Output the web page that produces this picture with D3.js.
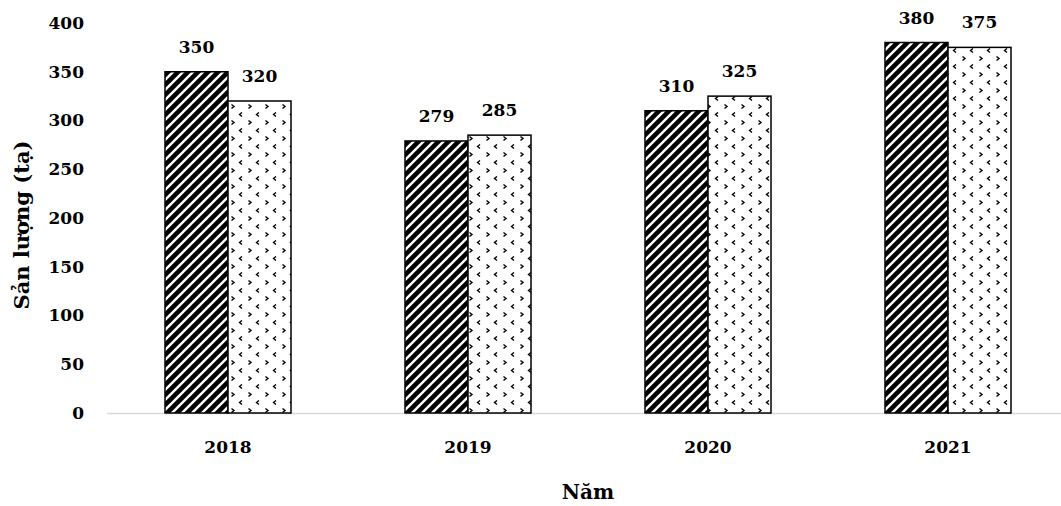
<!DOCTYPE html>
<html>
<head>
<meta charset="utf-8">
<script src="https://cdn.jsdelivr.net/npm/d3@7/dist/d3.min.js"></script>
<style>
  html, body { margin: 0; padding: 0; background: #fff; }
  svg text { font-family: "DejaVu Serif", "Liberation Serif", serif; font-weight: bold; fill: #000; }
</style>
</head>
<body>
<svg id="chart" width="1061" height="506"></svg>
<script>
// Production by year, two series
const years = ["2018", "2019", "2020", "2021"];
const seriesA = [350, 279, 310, 380];
const seriesB = [320, 285, 325, 375];
const yTicks = [0, 50, 100, 150, 200, 250, 300, 350, 400];
const yTitle = "Sản lượng (tạ)";
const xTitle = "Năm";

const svg = d3.select("#chart");
const plotLeft = 108, plotRight = 1068, plotTop = 23, plotBottom = 413;

const x = d3.scaleBand().domain(years).range([plotLeft, plotRight]);
const barW = 63;
const y = d3.scaleLinear().domain([0, 400]).range([plotBottom, plotTop]);

// Fill patterns
const defs = svg.append("defs");
const stripe = defs.append("pattern")
  .attr("id", "stripe").attr("patternUnits", "userSpaceOnUse")
  .attr("width", 10).attr("height", 10);
stripe.append("rect").attr("width", 10).attr("height", 10).attr("fill", "#fff");
stripe.append("path")
  .attr("d", "M-2,12 L12,-2 M-2,2 L2,-2 M8,12 L12,8")
  .attr("stroke", "#000").attr("stroke-width", 4.6);

const dots = defs.append("pattern")
  .attr("id", "dots").attr("patternUnits", "userSpaceOnUse")
  .attr("width", 17).attr("height", 16);
dots.append("rect").attr("width", 17).attr("height", 16).attr("fill", "#fff");
dots.append("path").attr("d", "M4,0.5 L1.5,2.5 L4,4.5").attr("fill", "none")
  .attr("stroke", "#000").attr("stroke-width", 1.4);
dots.append("path").attr("d", "M10.5,8.5 L13,10.5 L10.5,12.5").attr("fill", "none")
  .attr("stroke", "#000").attr("stroke-width", 1.4);

// Baseline
svg.append("line")
  .attr("x1", plotLeft - 1).attr("x2", 1061)
  .attr("y1", plotBottom + 0.5).attr("y2", plotBottom + 0.5)
  .attr("stroke", "#d9d9d9").attr("stroke-width", 1.5);

// Y axis labels
const yAxis = d3.axisLeft(y).tickValues(yTicks).tickSize(0).tickPadding(0);
const gy = svg.append("g").attr("transform", "translate(84,0)").call(yAxis);
gy.select(".domain").remove();
gy.selectAll("text").attr("font-size", 17).attr("font-family", null);

// X axis labels
const xAxis = d3.axisBottom(x).tickSize(0).tickPadding(0);
const gx = svg.append("g").attr("transform", "translate(0,441)").call(xAxis);
gx.select(".domain").remove();
gx.selectAll("text").attr("font-size", 17).attr("font-family", null);

// Bars
const groups = svg.append("g").selectAll("g").data(years).join("g");
const center = d => x(d) + x.bandwidth() / 2;

groups.append("rect")
  .attr("x", d => center(d) - barW)
  .attr("y", (d, i) => y(seriesA[i]))
  .attr("width", barW)
  .attr("height", (d, i) => plotBottom - y(seriesA[i]))
  .attr("fill", "url(#stripe)").attr("stroke", "#000").attr("stroke-width", 1.5);

groups.append("rect")
  .attr("x", d => center(d))
  .attr("y", (d, i) => y(seriesB[i]))
  .attr("width", barW)
  .attr("height", (d, i) => plotBottom - y(seriesB[i]))
  .attr("fill", "url(#dots)").attr("stroke", "#000").attr("stroke-width", 1.5);

// Value labels
groups.append("text")
  .attr("x", d => center(d) - barW / 2)
  .attr("y", (d, i) => y(seriesA[i]) - 19)
  .attr("text-anchor", "middle").attr("font-size", 17)
  .text((d, i) => seriesA[i]);
groups.append("text")
  .attr("x", d => center(d) + barW / 2)
  .attr("y", (d, i) => y(seriesB[i]) - 19)
  .attr("text-anchor", "middle").attr("font-size", 17)
  .text((d, i) => seriesB[i]);

// Axis titles
svg.append("text")
  .attr("transform", "translate(29,225) rotate(-90)")
  .attr("text-anchor", "middle").attr("font-size", 21)
  .text(yTitle);
svg.append("text")
  .attr("x", 588).attr("y", 499)
  .attr("text-anchor", "middle").attr("font-size", 20)
  .text(xTitle);
</script>
</body>
</html>
